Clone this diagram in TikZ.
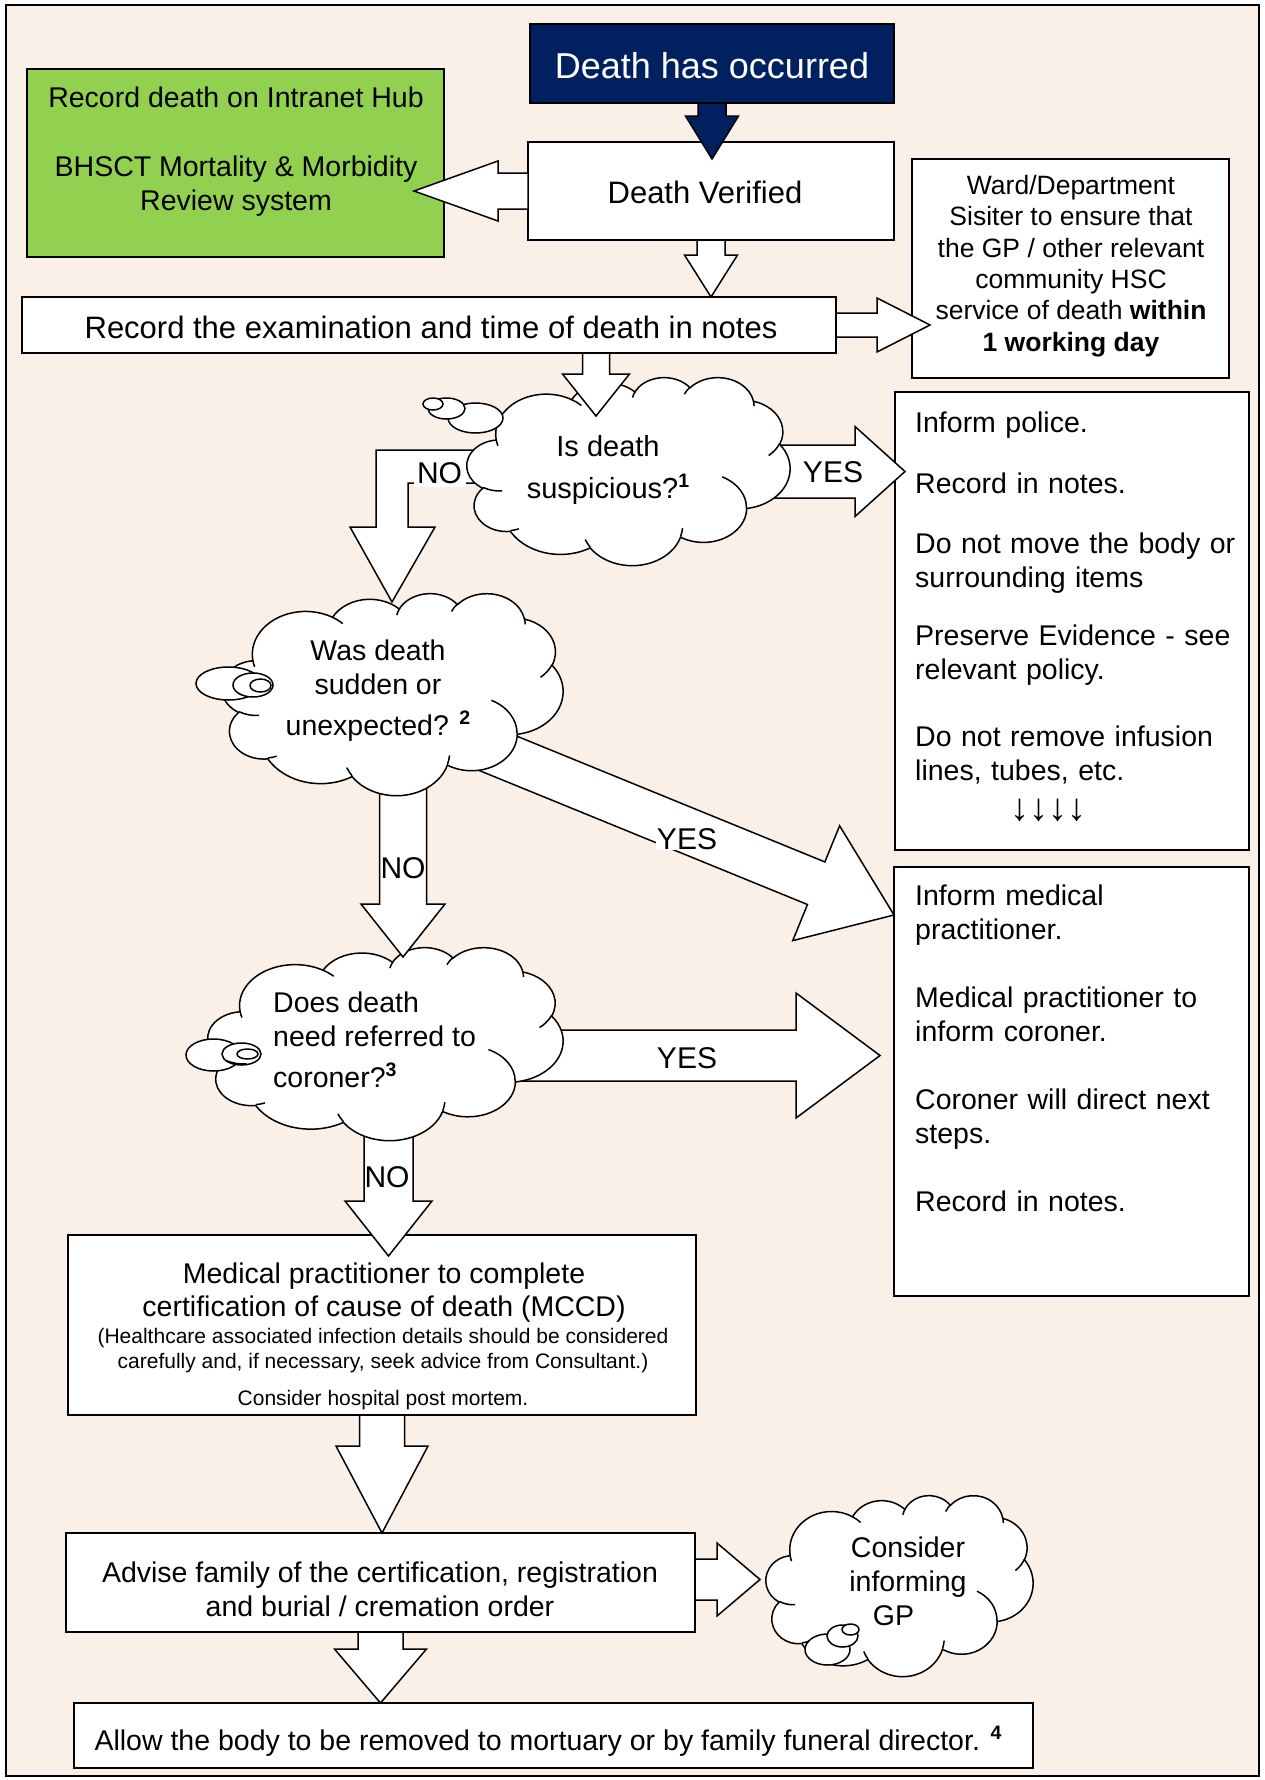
\documentclass[tikz,border=0pt]{standalone}
\usepackage{fontspec}
\setmainfont{Liberation Sans}
\usetikzlibrary{calc}

\definecolor{pagepeach}{RGB}{251,240,231}
\definecolor{deepnavy}{RGB}{0,32,96}
\definecolor{leafgreen}{RGB}{146,208,80}

\newcommand\fsz[2]{\fontsize{#1}{#2}\selectfont}
\newcommand\fnmark[1]{\raisebox{11pt}{\fsz{19.5}{19.5}\bfseries #1}}

% one puff of a cloud outline: radii and visual start/sweep angles
\newcommand\cloudarc[4]{arc[x radius=#1pt, y radius=#2pt,
  start angle={atan2(#1*sin(#3),#2*cos(#3))},
  delta angle={mod(atan2(#1*sin(#3+#4),#2*cos(#3+#4))-atan2(#1*sin(#3),#2*cos(#3))+720,360)}]}

% cloud outline fitted to the box of node #1 (width #2, height #3)
\newcommand\cloudbody[3]{%
  \begin{scope}[shift={(#1.north west)},x=1pt,y=1pt,xscale=#2/432,yscale=-#3/432]
    \filldraw[cloudline,fill=white] (39.00,143.70)
      \cloudarc{67.53}{91.90}{-190.4875}{123.7805}
      \cloudarc{53.33}{72.67}{-144.1024}{89.9452}
      \cloudarc{43.65}{59.45}{-145.8079}{99.7230}
      \cloudarc{48.57}{65.95}{-130.9861}{117.2417}
      \cloudarc{53.33}{72.73}{-78.7089}{109.0269}
      \cloudarc{67.75}{92.20}{-46.2673}{130.2690}
      \cloudarc{57.85}{78.67}{0.6250}{114.0333}
      \cloudarc{67.52}{92.15}{22.4516}{115.1726}
      \cloudarc{77.20}{105.43}{66.2426}{75.7110}
      \cloudarc{43.60}{59.18}{-274.9421}{146.7356}
      \cloudarc{43.45}{59.45}{-246.8285}{152.5189}
      -- cycle;
  \end{scope}}

% the short inner strokes between the puffs
\newcommand\clouddetail[3]{%
  \begin{scope}[shift={(#1.north west)},x=1pt,y=1pt,xscale=#2/432,yscale=-#3/432]
    \draw[cloudline]
      (46.93,261.77) \cloudarc{43.45}{59.45}{86.7420}{26.4295}
      (69.28,348.99) \cloudarc{43.60}{59.18}{73.6105}{11.4475}
      (164.78,390.90) \cloudarc{67.52}{92.15}{137.6242}{14.0811}
      (288.27,347.51) \cloudarc{67.52}{92.15}{6.4533}{15.9984}
      (341.29,229.54) \cloudarc{57.85}{78.67}{-70.2924}{70.9174}
      (417.98,153.54) \cloudarc{53.33}{72.73}{30.3180}{27.7515}
      (383.24,54.26) \cloudarc{48.57}{65.95}{-13.7443}{14.8589}
      (290.78,39.52) \cloudarc{48.57}{65.95}{-149.1815}{18.1954}
      (221.41,47.20) \cloudarc{43.65}{59.45}{-163.4943}{17.6864}
      (140.00,51.92) \cloudarc{67.53}{91.90}{-66.7070}{12.3194}
      (41.27,157.89) \cloudarc{67.53}{91.90}{157.6544}{11.8582};
  \end{scope}}

% wide block arrow: [style]{from}{tip}{half shaft}{half head}{head length}
\newcommand\blockarrow[6][]{%
  \draw[fatarrow,#1] let \p1=(#2), \p2=(#3),
      \n1={atan2(\y2-\y1,\x2-\x1)},
      \n2={veclen(\x2-\x1,\y2-\y1)-#6pt} in
    ($(\p1)+(\n1+90:#4pt)$) --
    ($(\p1)+(\n1:\n2)+(\n1+90:#4pt)$) --
    ($(\p1)+(\n1:\n2)+(\n1+90:#5pt)$) --
    (\p2) --
    ($(\p1)+(\n1:\n2)+(\n1-90:#5pt)$) --
    ($(\p1)+(\n1:\n2)+(\n1-90:#4pt)$) --
    ($(\p1)+(\n1-90:#4pt)$) -- cycle;}

\tikzset{
  box/.style={draw=black,line width=1.8pt,fill=white,inner sep=0pt,outer sep=0pt},
  cloudspot/.style={inner sep=0pt,outer sep=0pt},
  cloudline/.style={draw=black,line width=1.5pt},
  bubble/.style={draw=black,line width=1.5pt,fill=white},
  fatarrow/.style={draw=black,line width=1.5pt,fill=white,line join=miter},
  txt/.style={inner sep=0pt,align=center},
  lbl/.style={inner sep=0.5pt,font=\fsz{30}{34}},
}

\begin{document}
\begin{tikzpicture}[x=1pt,y=-1pt]
\useasboundingbox (0,0) rectangle (1264,1780);
\fill[white] (0,0) rectangle (1264,1780);
\filldraw[fill=pagepeach,draw=black,line width=2pt] (6,5) rectangle (1259,1776);

% boxes
\node[box,fill=leafgreen,line width=1.5pt,minimum width=417pt,minimum height=188pt] (green) at (235.5,163) {};
\node[box,fill=deepnavy,minimum width=364pt,minimum height=79pt] (navy) at (712,63.5) {};
\node[box,minimum width=366pt,minimum height=98pt] (dv) at (711,191) {};
\node[box,minimum width=814pt,minimum height=56pt] (record) at (429,325) {};
\node[box,minimum width=317pt,minimum height=219pt] (ward) at (1070.5,268.5) {};
\node[box,minimum width=354pt,minimum height=458pt] (police) at (1072,621) {};
\node[box,minimum width=355pt,minimum height=429pt] (med) at (1071.5,1081.5) {};
\node[box,minimum width=628pt,minimum height=180pt] (mccd) at (382,1325) {};
\node[box,minimum width=629pt,minimum height=99pt] (advise) at (380.5,1582.5) {};
\node[box,minimum width=959pt,minimum height=65pt] (allow) at (553.5,1735.5) {};

% places of the clouds
\node[cloudspot,minimum width=323pt,minimum height=188pt] (c1) at (628.5,471) {};
\node[cloudspot,minimum width=341pt,minimum height=202pt] (c2) at (392.5,694) {};
\node[cloudspot,minimum width=355pt,minimum height=193pt] (c3) at (385.5,1043.5) {};
\node[cloudspot,minimum width=267pt,minimum height=181pt] (c4) at (899.5,1585.5) {};

% arrows between the top boxes
\blockarrow[fill=deepnavy]{navy.south}{$(navy.south |- dv.north)+(0,17)$}{14}{26.5}{43}
\blockarrow{dv.west}{$(dv.west -| green.east)+(-30,0)$}{18}{30}{84}
\blockarrow{dv.south}{dv.south |- record.north}{14}{26.5}{42}
\blockarrow{record.east}{$(record.east -| ward.west)+(18,0)$}{12}{27}{53}

% coroner question
\blockarrow{$(c3.center)+(130,12)$}{$(c3.center -| med.west)+(-14,12)$}{25.5}{62.5}{84}
\blockarrow{$(c3.south)+(3,-10)$}{$(c3.south |- mccd.north)+(3,21)$}{24.5}{43.5}{55}
\cloudbody{c3}{355}{193}
\filldraw[bubble] (213.5,1055) ellipse [x radius=27.5pt,y radius=16pt];
\filldraw[bubble] (241.5,1054) ellipse [x radius=19.5pt,y radius=11pt];
\filldraw[bubble] (247.5,1054) ellipse [x radius=10.5pt,y radius=5pt];
\clouddetail{c3}{355}{193}

% sudden or unexpected question
\blockarrow{$(c2.south)+(10.5,-10)$}{$(c3.north)+(17.5,10)$}{23.5}{42}{53}
\blockarrow{$(c2.center)+(57,39.5)$}{$(med.north west)+(0,48)$}{23}{62}{84}
\cloudbody{c2}{341}{202}
\filldraw[bubble] (228.5,683.5) ellipse [x radius=32.5pt,y radius=16.5pt];
\filldraw[bubble] (253,685) ellipse [x radius=20pt,y radius=12pt];
\filldraw[bubble] (260.5,685.5) ellipse [x radius=10.5pt,y radius=6.5pt];
\clouddetail{c2}{341}{202}

% suspicious question
\draw[fatarrow] ($(c2.north)+(-0.5,9)$) coordinate (notip) -- ++(-42,-75) -- ++(26,0) -- ++(0,-77)
  -- ++(144,0) -- ++(0,33) -- ++(-112,0) -- ++(0,44) -- ++(27,0) -- cycle;
\blockarrow{$(c1.center)+(100,0.5)$}{$(c1.center -| police.west)+(10,0.5)$}{26.5}{45}{50}
\cloudbody{c1}{323}{188}
\filldraw[bubble] (475.5,418) ellipse [x radius=27.5pt,y radius=15pt];
\filldraw[bubble] (446.5,408.5) ellipse [x radius=18.5pt,y radius=10.5pt];
\filldraw[bubble] (433,404) ellipse [x radius=10pt,y radius=6pt];
\clouddetail{c1}{323}{188}
\blockarrow{$(record.south -| c1.north)+(-32.5,0)$}{$(c1.north)+(-32.5,39)$}{13.5}{33.5}{42}

% GP cloud and the lower arrows
\cloudbody{c4}{267}{181}
\filldraw[bubble] (827.5,1649.5) ellipse [x radius=22.5pt,y radius=15.5pt];
\filldraw[bubble] (842.5,1636) ellipse [x radius=15.5pt,y radius=11pt];
\filldraw[bubble] (850.5,1629.5) ellipse [x radius=8.5pt,y radius=5.5pt];
\clouddetail{c4}{267}{181}
\blockarrow{mccd.south}{mccd.south |- advise.north}{22.5}{46}{87}
\blockarrow{$(advise.east)+(0,-3)$}{$(advise.east -| c4.west)+(-6,-3)$}{20.5}{36.5}{43}
\blockarrow{advise.south}{advise.south |- allow.north}{22.5}{46}{54}

% texts
\node[txt,text=white,font=\fsz{36}{40}] (navytext) at (712,66) {Death has occurred};
\node[txt,font=\fsz{31}{36}] (dvtext) at (705,192) {Death Verified};
\node[txt,font=\fsz{28.5}{34.5}] (greentext) at (236,151.5)
  {Record death on Intranet Hub\\[34.5pt]BHSCT Mortality \& Morbidity\\Review system};
\node[txt,font=\fsz{31}{36}] (recordtext) at (431,327) {Record the examination and time of death in notes};
\node[txt,font=\fsz{26.5}{31.4}] (wardtext) at (1071,266)
  {Ward/Department\\Sisiter to ensure that\\the GP / other relevant\\community HSC\\service of death \textbf{within}\\\textbf{1 working day}};
\node[txt,align=left,text width=314pt,anchor=north west,font=\fsz{28.5}{34}] (policetext) at (915,411.5)
  {Inform police.\\[27pt]
   Record in notes.\\[26pt]
   \makebox[\linewidth][s]{Do not move the body or}\\
   surrounding items\\[24pt]
   \makebox[\linewidth][s]{Preserve Evidence - see}\\
   relevant policy.\\[33pt]
   \makebox[\linewidth][s]{Do not remove infusion}\\
   lines, tubes, etc.\\[6pt]
   \hspace*{95pt}{\fsz{38}{38}↓↓↓↓}};
\node[txt,align=left,text width=320pt,anchor=north west,font=\fsz{28.5}{34}] (medtext) at (915,884.4)
  {Inform medical\\practitioner.\\[34pt]Medical practitioner to\\inform coroner.\\[34pt]Coroner will direct next\\steps.\\[34pt]Record in notes.};
\node[txt,font=\fsz{29}{34}] (c1text) at (608,470) {Is death\\[8pt]suspicious?\fnmark{1}};
\node[txt,font=\fsz{28.5}{34}] (c2text) at (378,690.5) {Was death\\sudden or\\[7pt]unexpected? \fnmark{2}};
\node[txt,align=left,anchor=west,font=\fsz{28.5}{34}] (c3text) at (273,1039.5) {Does death\\need referred to\\[7pt]coroner?\fnmark{3}};
\node[txt,font=\fsz{28.5}{34}] (c4text) at (908,1581) {Consider\\informing\\GP\hspace*{29pt}};
\node[txt,font=\fsz{28.5}{33}] (mccdtitle) at (384,1292.5)
  {Medical practitioner to complete\\certification of cause of death (MCCD)};
\node[txt,font=\fsz{21}{25}] (mccdnote) at (383,1369)
  {(Healthcare associated infection details should be considered\\carefully and, if necessary, seek advice from Consultant.)\\[12pt]Consider hospital post mortem.};
\node[txt,font=\fsz{28.5}{34}] (advisetext) at (380,1589)
  {Advise family of the certification, registration\\and burial / cremation order};
\node[txt,font=\fsz{28.5}{34}] (allowtext) at (548,1741)
  {Allow the body to be removed to mortuary or by family funeral director. \fnmark{4}};

% decision labels
\node[lbl,fill=white,inner xsep=3.5pt,inner ysep=2.5pt] (nosusp) at (439.5,473.5) {NO};
\node[lbl] (yessusp) at (833,472.5) {YES};
\node[lbl,fill=white] (yessudden) at (687,839) {YES};
\node[lbl] (nosudden) at (403,868) {NO};
\node[lbl] (yescoroner) at (687,1058) {YES};
\node[lbl] (nocoroner) at (387,1177) {NO};
\end{tikzpicture}
\end{document}
